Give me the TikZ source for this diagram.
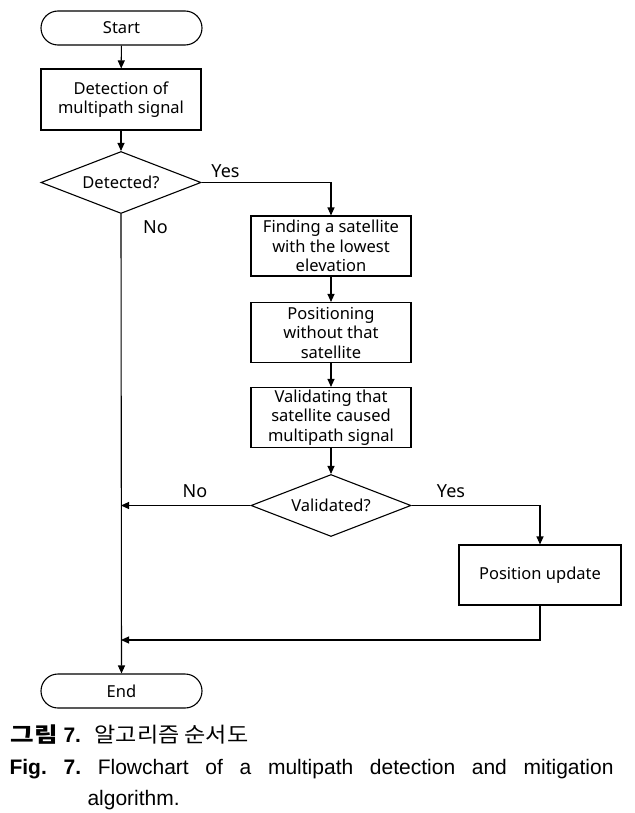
\documentclass[tikz,border=0pt]{standalone}
\usepackage{fontspec}
\usepackage{graphicx}
\setmainfont{Noto Sans}
\newfontfamily\capfont{Liberation Sans}
\newfontfamily\cjk{Noto Sans CJK KR}
\usetikzlibrary{arrows.meta,shapes.geometric}
\frenchspacing
\begin{document}
\begin{tikzpicture}[x=1pt,y=-1pt,
  line width=1.1pt,
  every node/.style={font=\fontsize{16.5}{19.5}\selectfont},
  terminal/.style={draw,rectangle,rounded corners=17pt,minimum width=161pt,minimum height=34pt,inner sep=0pt},
  procbox/.style={draw,rectangle,minimum width=160pt,minimum height=60pt,inner sep=0pt,align=center},
  decision/.style={draw,diamond,aspect=2.55,minimum width=160pt,minimum height=62pt,inner sep=0pt},
  yn/.style={font=\fontsize{18}{20}\selectfont,inner sep=0pt},
  arr/.style={-{Triangle[length=8pt,width=7pt]}},
  captext/.style={inner sep=0pt,anchor=base west}
]
\useasboundingbox (0,0) rectangle (634,813);
\node[terminal] (start) at (121.5,28) {Start};
\node[procbox,minimum height=61pt] (detect) at (121,99.5) {Detection of\\multipath signal};
\node[decision] (det) at (121,182.5) {Detected?};
\node[procbox] (find) at (331,246) {Finding a satellite\\with the lowest\\elevation};
\node[procbox] (pos) at (331,332.5) {Positioning\\without that\\satellite};
\node[procbox] (valid) at (331,417.5) {Validating that\\satellite caused\\multipath signal};
\node[decision] (vald) at (331,505.5) {Validated?};
\node[procbox,minimum width=162pt] (upd) at (540,575) {Position update};
\node[terminal] (end) at (121.5,691) {End};

\node[yn] (yes1) at (225.5,171) {Yes};
\node[yn] (no1) at (155.5,227) {No};
\node[yn] (no2) at (195,491) {No};
\node[yn] (yes2) at (451,491) {Yes};

\coordinate (c1) at (331,182.5);
\coordinate (m1) at (121,505.5);
\coordinate (c2) at (540,505.5);
\coordinate (c3) at (540,640);
\coordinate (m2) at (121,640);

\draw[arr] (start) -- (detect);
\draw[arr] (detect) -- (det);
\draw[arr] (det.east) -- (c1) -- (find.north);
\draw[arr] (find) -- (pos);
\draw[arr] (pos) -- (valid);
\draw[arr] (valid) -- (vald);
\draw[arr] (vald.west) -- (m1);
\draw[arr] (vald.east) -- (c2) -- (upd.north);
\draw[arr] (upd.south) -- (c3) -- (m2);
\draw[arr] (det.south) -- (end.north);

\node[captext] (k1) at (10,742) {\cjk\bfseries\fontsize{21}{24}\selectfont\scalebox{1.22}[1]{그림}};
\node[captext] (k2) at (63,742) {\capfont\bfseries\fontsize{21}{24}\selectfont 7.};
\node[captext] (k3) at (94,742) {\cjk\fontsize{21}{24}\selectfont\scalebox{1.1}[1]{알고리즘 순서도}};
\node[captext] (f1) at (9,774) {\capfont\fontsize{21}{24}\selectfont\makebox[604pt][s]{\bfseries Fig. 7.\mdseries\ Flowchart of a multipath detection and mitigation}};
\node[captext] (f2) at (87,805) {\capfont\fontsize{21}{24}\selectfont algorithm.};
\end{tikzpicture}
\end{document}
